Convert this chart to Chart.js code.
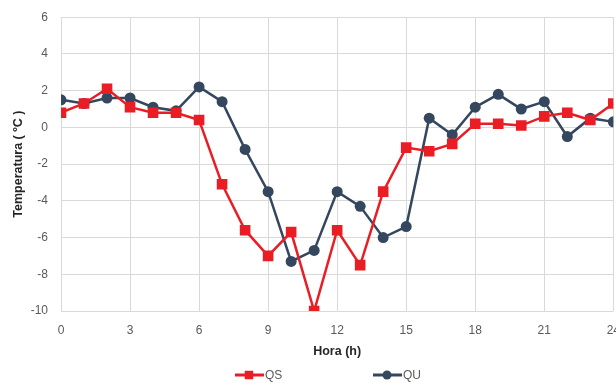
<!DOCTYPE html>
<html>
<head>
<meta charset="utf-8">
<script src="https://cdn.jsdelivr.net/npm/chart.js@4/dist/chart.umd.min.js"></script>
<style>
  html, body { margin: 0; padding: 0; background: #fff; overflow: hidden; }
  #wrap { width: 632px; height: 386px; position: relative; top: -3px; }
</style>
</head>
<body>
<div id="wrap"><canvas id="chart"></canvas></div>
<script>
// horas del día
const hours = [0, 1, 2, 3, 4, 5, 6, 7, 8, 9, 10, 11, 12, 13, 14, 15, 16, 17, 18, 19, 20, 21, 22, 23, 24];
const qs = [0.8, 1.3, 2.1, 1.1, 0.8, 0.8, 0.4, -3.1, -5.6, -7.0, -5.7, -10.0, -5.6, -7.5, -3.5, -1.1, -1.3, -0.9, 0.2, 0.2, 0.1, 0.6, 0.8, 0.4, 1.3];
const qu = [1.5, 1.3, 1.6, 1.6, 1.1, 0.9, 2.2, 1.4, -1.2, -3.5, -7.3, -6.7, -3.5, -4.3, -6.0, -5.4, 0.5, -0.4, 1.1, 1.8, 1.0, 1.4, -0.5, 0.5, 0.3];
const seriesNames = ['QS', 'QU'];

const RED = '#ea1d25';
const BLUE = '#34475f';
const GRID = '#d9d9d9';
const TICK = '#595959';
const FONT = "'Liberation Sans', Arial, sans-serif";

function toPoints(vals) {
  return hours.map((h, i) => ({ x: h, y: vals[i] }));
}

// leyenda dibujada a mano: línea + marcador + texto
const bottomLegend = {
  id: 'bottomLegend',
  afterDraw(chart) {
    const ctx = chart.ctx;
    const y = 378;
    const centers = [249, 387];
    chart.data.datasets.forEach((ds, i) => {
      const cx = centers[i];
      ctx.save();
      ctx.strokeStyle = ds.borderColor;
      ctx.lineWidth = 3;
      ctx.beginPath();
      ctx.moveTo(cx - 14, y);
      ctx.lineTo(cx + 15, y);
      ctx.stroke();
      ctx.fillStyle = ds.pointBackgroundColor;
      ctx.strokeStyle = ds.pointBorderColor;
      Chart.helpers.drawPoint(ctx, {
        pointStyle: ds.pointStyle,
        radius: ds.pointStyle === 'rect' ? 6 : 4.5,
        borderWidth: 0
      }, cx, y);
      ctx.fillStyle = TICK;
      ctx.font = '12px ' + FONT;
      ctx.textBaseline = 'middle';
      ctx.textAlign = 'left';
      ctx.fillText(ds.label, cx + 16, y + 1);
      ctx.restore();
    });
  }
};

new Chart(document.getElementById('chart'), {
  type: 'line',
  data: {
    datasets: [
      {
        label: seriesNames[0],
        data: toPoints(qs),
        borderColor: RED,
        backgroundColor: RED,
        pointBackgroundColor: RED,
        pointBorderColor: RED,
        borderWidth: 2.5,
        pointStyle: 'rect',
        pointRadius: 7.5,
        pointBorderWidth: 0,
        tension: 0
      },
      {
        label: seriesNames[1],
        data: toPoints(qu),
        borderColor: BLUE,
        backgroundColor: BLUE,
        pointBackgroundColor: BLUE,
        pointBorderColor: BLUE,
        borderWidth: 2.5,
        pointStyle: 'circle',
        pointRadius: 5.5,
        pointBorderWidth: 0,
        tension: 0
      }
    ]
  },
  options: {
    responsive: true,
    maintainAspectRatio: false,
    animation: false,
    layout: {
      autoPadding: false,
      padding: { top: 8, right: 4, bottom: 24, left: 0 }
    },
    plugins: {
      legend: { display: false },
      tooltip: { enabled: false }
    },
    scales: {
      x: {
        type: 'linear',
        min: 0,
        max: 24,
        ticks: {
          stepSize: 3,
          color: TICK,
          font: { family: FONT, size: 12 },
          padding: 12,
          maxRotation: 0
        },
        grid: { color: GRID, lineWidth: 1, drawTicks: false },
        border: { display: false },
        title: {
          display: true,
          text: 'Hora (h)',
          color: '#262626',
          font: { family: FONT, size: 12.5, weight: 'bold' },
          padding: { top: 0, bottom: 0 }
        },
        afterFit(scale) { scale.height = 48; }
      },
      y: {
        min: -10,
        max: 6,
        ticks: {
          stepSize: 2,
          color: TICK,
          font: { family: FONT, size: 12 },
          padding: 13
        },
        grid: { color: GRID, lineWidth: 1, drawTicks: false },
        border: { color: GRID },
        title: {
          display: true,
          text: 'Temperatura ( ºC )',
          color: '#262626',
          font: { family: FONT, size: 12.5, weight: 'bold' },
          padding: { top: 11, bottom: 0 }
        },
        afterFit(scale) { scale.width = 61; }
      }
    }
  },
  plugins: [bottomLegend]
});
</script>
</body>
</html>
